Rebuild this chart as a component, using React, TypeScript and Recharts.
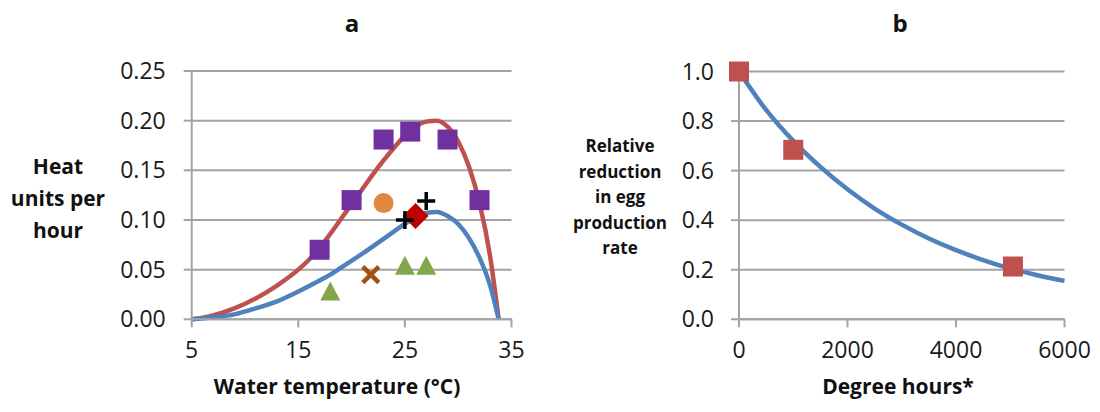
import React from "react";
import {
  ComposedChart,
  Line,
  Scatter,
  XAxis,
  YAxis,
  CartesianGrid,
} from "recharts";

// panel a: fitted curves (water temperature °C -> heat units per hour)
const RED_TEMP = [5, 7, 9, 11, 13, 15, 16, 17, 18, 19, 20, 21, 22, 23, 24, 25, 26, 27, 28, 29, 30, 31, 32, 33, 33.8];
const RED_HEAT = [0, 0.004, 0.011, 0.021, 0.034, 0.05, 0.06, 0.072, 0.086, 0.101, 0.116, 0.131, 0.146, 0.16, 0.173, 0.185, 0.194, 0.199, 0.2, 0.194, 0.179, 0.154, 0.117, 0.063, 0];
const BLUE_TEMP = [5, 7, 9, 11, 13, 15, 17, 18, 19, 21, 23, 25, 26, 27, 28, 29, 30, 31, 32, 33, 33.8];
const BLUE_HEAT = [0, 0.002, 0.005, 0.011, 0.018, 0.028, 0.039, 0.045, 0.052, 0.066, 0.081, 0.096, 0.103, 0.107, 0.108, 0.104, 0.096, 0.082, 0.062, 0.034, 0];

// panel a: observations
const SQUARE_TEMP = [17, 20, 23, 25.5, 29, 32];
const SQUARE_HEAT = [0.07, 0.12, 0.181, 0.189, 0.181, 0.12];
const CIRCLE_TEMP = [23];
const CIRCLE_HEAT = [0.117];
const PLUS_TEMP = [25, 27];
const PLUS_HEAT = [0.1, 0.119];
const DIAMOND_TEMP = [26];
const DIAMOND_HEAT = [0.104];
const CROSS_TEMP = [21.8];
const CROSS_HEAT = [0.045];
const TRIANGLE_TEMP = [18, 25, 27];
const TRIANGLE_HEAT = [0.028, 0.054, 0.054];

const TEMP_TICKS = [5, 15, 25, 35];
const HEAT_TICKS = [0, 0.05, 0.1, 0.15, 0.2, 0.25];

// panel b
const CURVE_HOURS = [0, 500, 1000, 1500, 2000, 2500, 3000, 3500, 4000, 4500, 5000, 5500, 6000];
const CURVE_REDUCTION = [1.0, 0.845, 0.72, 0.615, 0.525, 0.447, 0.382, 0.326, 0.279, 0.239, 0.205, 0.178, 0.155];
const OBS_HOURS = [0, 1000, 5050];
const OBS_REDUCTION = [1.0, 0.684, 0.213];
const HOUR_TICKS = [0, 2000, 4000, 6000];
const REDUCTION_TICKS = [0, 0.2, 0.4, 0.6, 0.8, 1.0];

const zip = (xs: number[], ys: number[]) => xs.map((x, i) => ({ x, y: ys[i] }));

const GRID = "#a3a3a3";
const FONT = "'Open Sans', 'Liberation Sans', sans-serif";
const tickStyle = { fontSize: 23, fill: "#1a1a1a", fontFamily: FONT };
const LINE_W = 4.5;

const Square = ({ cx, cy, fill }: any) => (
  <rect x={cx - 10} y={cy - 10} width={20} height={20} fill={fill} />
);
const Circle = ({ cx, cy }: any) => <circle cx={cx} cy={cy} r={10} fill="#e0883e" />;
const Plus = ({ cx, cy }: any) => (
  <path d={`M${cx - 9},${cy}H${cx + 9}M${cx},${cy - 9}V${cy + 9}`} stroke="#000" strokeWidth={3.5} />
);
const Diamond = ({ cx, cy }: any) => (
  <path d={`M${cx},${cy - 13}L${cx + 13},${cy}L${cx},${cy + 13}L${cx - 13},${cy}Z`} fill="#c00000" />
);
const Cross = ({ cx, cy }: any) => (
  <path
    d={`M${cx - 8},${cy - 8}L${cx + 8},${cy + 8}M${cx + 8},${cy - 8}L${cx - 8},${cy + 8}`}
    stroke="#a0520f"
    strokeWidth={4.5}
  />
);
const Triangle = ({ cx, cy }: any) => (
  <path d={`M${cx},${cy - 10}L${cx + 10},${cy + 9}L${cx - 10},${cy + 9}Z`} fill="#82a64c" />
);

function Title({ x, y, size, lineHeight, children }: any) {
  return (
    <div
      style={{
        position: "absolute",
        left: x,
        top: y,
        transform: "translate(-50%, -50%)",
        textAlign: "center",
        fontWeight: 700,
        fontSize: size,
        fontFamily: FONT,
        color: "#111",
        lineHeight: lineHeight || 1.2,
        whiteSpace: "nowrap",
      }}
    >
      {children}
    </div>
  );
}

export default function App() {
  return (
    <div style={{ position: "absolute", left: 0, top: 0, width: 1100, height: 412, background: "#fff" }}>
      <div style={{ position: "absolute", left: 0, top: 0 }}>
        <ComposedChart width={550} height={412} margin={{ top: 71, right: 38.5, bottom: 32.7, left: 131.7 }}>
          <CartesianGrid vertical={false} stroke={GRID} strokeWidth={2} />
          <XAxis
            type="number"
            dataKey="x"
            domain={[5, 35]}
            ticks={TEMP_TICKS}
            height={60}
            tickSize={8}
            tickMargin={14}
            tick={tickStyle}
            axisLine={{ stroke: GRID, strokeWidth: 2 }}
            tickLine={{ stroke: GRID, strokeWidth: 2 }}
          />
          <YAxis
            type="number"
            domain={[0, 0.25]}
            ticks={HEAT_TICKS}
            width={60}
            tickSize={8}
            tickMargin={18}
            tick={tickStyle}
            tickFormatter={(v: number) => v.toFixed(2)}
            axisLine={{ stroke: GRID, strokeWidth: 2 }}
            tickLine={{ stroke: GRID, strokeWidth: 2 }}
          />
          <Line data={zip(RED_TEMP, RED_HEAT)} dataKey="y" type="monotone" stroke="#c0504d" strokeWidth={LINE_W} dot={false} isAnimationActive={false} />
          <Line data={zip(BLUE_TEMP, BLUE_HEAT)} dataKey="y" type="monotone" stroke="#4f81bd" strokeWidth={LINE_W} dot={false} isAnimationActive={false} />
          <Scatter data={zip(TRIANGLE_TEMP, TRIANGLE_HEAT)} dataKey="y" shape={Triangle} isAnimationActive={false} />
          <Scatter data={zip(CROSS_TEMP, CROSS_HEAT)} dataKey="y" shape={Cross} isAnimationActive={false} />
          <Scatter data={zip(CIRCLE_TEMP, CIRCLE_HEAT)} dataKey="y" shape={Circle} isAnimationActive={false} />
          <Scatter data={zip(SQUARE_TEMP, SQUARE_HEAT)} dataKey="y" shape={(p: any) => <Square {...p} fill="#7030a0" />} isAnimationActive={false} />
          <Scatter data={zip(DIAMOND_TEMP, DIAMOND_HEAT)} dataKey="y" shape={Diamond} isAnimationActive={false} />
          <Scatter data={zip(PLUS_TEMP, PLUS_HEAT)} dataKey="y" shape={Plus} isAnimationActive={false} />
        </ComposedChart>
      </div>

      <div style={{ position: "absolute", left: 550, top: 0 }}>
        <ComposedChart width={550} height={412} margin={{ top: 71.5, right: 35.5, bottom: 32.7, left: 129 }}>
          <CartesianGrid vertical={false} stroke={GRID} strokeWidth={2} />
          <XAxis
            type="number"
            dataKey="x"
            domain={[0, 6000]}
            ticks={HOUR_TICKS}
            height={60}
            tickSize={8}
            tickMargin={14}
            tick={tickStyle}
            axisLine={{ stroke: GRID, strokeWidth: 2 }}
            tickLine={{ stroke: GRID, strokeWidth: 2 }}
          />
          <YAxis
            type="number"
            domain={[0, 1]}
            ticks={REDUCTION_TICKS}
            width={60}
            tickSize={8}
            tickMargin={17}
            tick={tickStyle}
            tickFormatter={(v: number) => v.toFixed(1)}
            axisLine={{ stroke: GRID, strokeWidth: 2 }}
            tickLine={{ stroke: GRID, strokeWidth: 2 }}
          />
          <Line data={zip(CURVE_HOURS, CURVE_REDUCTION)} dataKey="y" type="monotone" stroke="#4f81bd" strokeWidth={LINE_W} dot={false} isAnimationActive={false} />
          <Scatter data={zip(OBS_HOURS, OBS_REDUCTION)} dataKey="y" shape={(p: any) => <Square {...p} fill="#c0504d" />} isAnimationActive={false} />
        </ComposedChart>
      </div>

      <Title x={352} y={23} size={24}>a</Title>
      <Title x={900} y={23} size={24}>b</Title>
      <Title x={58} y={198} size={21} lineHeight="32px">
        Heat
        <br />
        units per
        <br />
        hour
      </Title>
      <Title x={337} y={387} size={21}>Water temperature (°C)</Title>
      <Title x={620} y={197} size={17} lineHeight="25.5px">
        Relative
        <br />
        reduction
        <br />
        in egg
        <br />
        production
        <br />
        rate
      </Title>
      <Title x={898} y={387} size={21}>Degree hours*</Title>
    </div>
  );
}
